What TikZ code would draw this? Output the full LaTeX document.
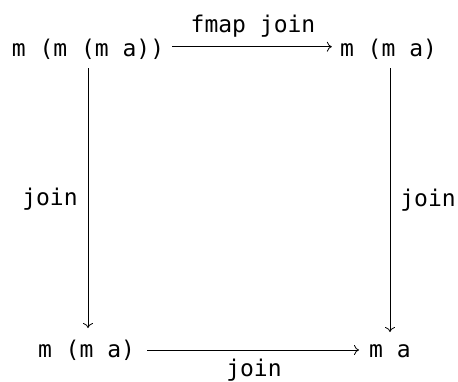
\documentclass[tikz,border=0pt]{standalone}
\usepackage{fontspec}
\setmonofont{DejaVu Sans Mono}
\usetikzlibrary{arrows.meta,calc}
\begin{document}
\begin{tikzpicture}[x=1pt,y=-1pt,
  obj/.style={inner sep=0pt,anchor=base,font=\fontsize{23}{28}\ttfamily},
  lbl/.style={inner sep=0pt,anchor=base,font=\fontsize{23}{28}\ttfamily},
  mor/.style={line width=0.8pt,-{To[length=5pt,width=10pt]}}]
\useasboundingbox (0,0) rectangle (458,381);
% objects of the square
\node[obj] (A) at (88,56) {m (m (m a))};
\node[obj] (B) at (388.5,56) {m (m a)};
\node[obj] (C) at (86.5,357) {m (m a)};
\node[obj] (D) at (390,357) {m a};
% morphism labels
\node[lbl] (ltop) at (253,32.7) {fmap join};
\node[lbl] (lleft) at (50,205) {join};
\node[lbl] (lright) at (428,206.7) {join};
\node[lbl] (lbot) at (254,376.7) {join};
% morphisms
\draw[mor] ($(A.base east)+(8,-9.3)$) -- ($(B.base west)+(-8,-9.3)$);
\draw[mor] ($(C.base east)+(12,-7)$) -- ($(D.base west)+(-10,-7)$);
\draw[mor] ($(A.base)+(0,12)$) -- ($(A.base |- C.base)+(0,-29)$);
\draw[mor] ($(D.base |- B.base)+(0,12)$) -- ($(D.base)+(0,-25)$);
\end{tikzpicture}
\end{document}
